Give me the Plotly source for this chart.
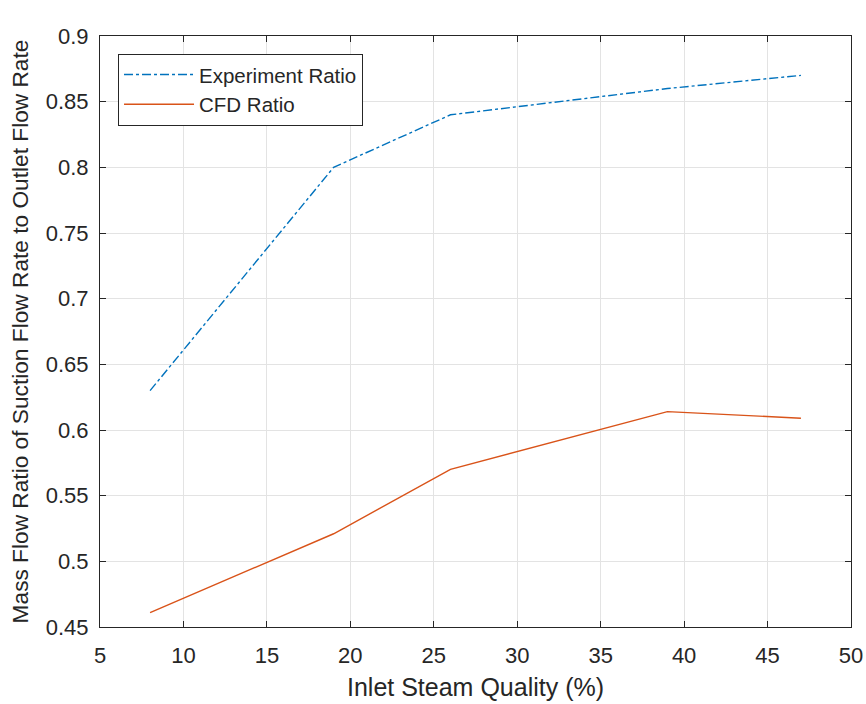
import plotly.graph_objects as go

quality = [8, 19, 26, 39, 47]
experiment_ratio = [0.63, 0.80, 0.84, 0.86, 0.87]
cfd_ratio = [0.461, 0.521, 0.570, 0.614, 0.609]

x_ticks = [5, 10, 15, 20, 25, 30, 35, 40, 45, 50]
y_ticks = [0.45, 0.5, 0.55, 0.6, 0.65, 0.7, 0.75, 0.8, 0.85, 0.9]

FONT = "Liberation Sans, Arial"

fig = go.Figure()
fig.add_trace(go.Scatter(x=quality, y=experiment_ratio, mode="lines", name="Experiment Ratio",
                         line=dict(color="#0072BD", width=1.4, dash="dashdot")))
fig.add_trace(go.Scatter(x=quality, y=cfd_ratio, mode="lines", name="CFD Ratio",
                         line=dict(color="#D95319", width=1.4)))

axis_common = dict(showline=True, linecolor="#262626", linewidth=1, mirror="ticks",
                   ticks="inside", ticklen=6, tickcolor="#262626",
                   showgrid=True, gridcolor="#e3e3e3", gridwidth=1, zeroline=False,
                   automargin=False,
                   tickfont=dict(family=FONT, size=22, color="#262626"))

fig.update_layout(
    width=866, height=704,
    margin=dict(l=100, r=15, t=36, b=77),
    paper_bgcolor="white", plot_bgcolor="white",
    font=dict(family=FONT, color="#262626"),
    xaxis=dict(range=[5, 50], tickvals=x_ticks, ticktext=[str(v) for v in x_ticks],
               title=dict(text="Inlet Steam Quality (%)", font=dict(size=25), standoff=11),
               ticklabelstandoff=9,
               **axis_common),
    yaxis=dict(range=[0.45, 0.9], tickvals=y_ticks, ticktext=[f"{v:g}" for v in y_ticks],
               title=dict(text="Mass Flow Ratio of Suction Flow Rate to Outlet Flow Rate",
                          font=dict(size=22.7), standoff=10),
               ticklabelstandoff=6,
               **axis_common),
    legend=dict(x=0.024, y=0.97, xanchor="left", yanchor="top",
                bgcolor="white", bordercolor="#262626", borderwidth=1,
                font=dict(family=FONT, size=20.5, color="#262626"),
                tracegroupgap=0, itemwidth=70),
    showlegend=True,
)

fig.write_html("out.html")
